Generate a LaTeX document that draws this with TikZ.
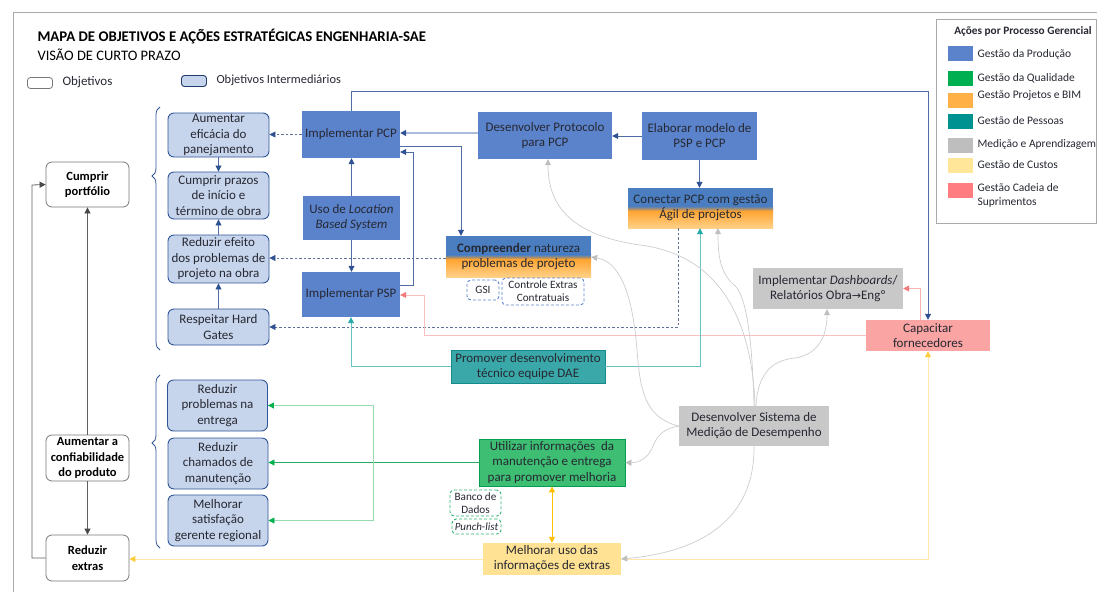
\documentclass[tikz,border=0pt]{standalone}
\usepackage{fontspec}
\setmainfont{Carlito}
\newfontfamily\arrowfont{DejaVu Sans}
\usetikzlibrary{arrows.meta,decorations.pathreplacing,calc}
\definecolor{txt}{RGB}{38,40,50}
\definecolor{framegray}{RGB}{170,170,170}
\definecolor{objdraw}{RGB}{120,120,120}
\definecolor{prod}{RGB}{91,131,204}
\definecolor{splitblue}{RGB}{74,126,193}
\definecolor{orTop}{RGB}{255,165,50}
\definecolor{orBot}{RGB}{255,208,135}
\definecolor{interfill}{RGB}{199,213,236}
\definecolor{interdraw}{RGB}{47,85,151}
\definecolor{tealfill}{RGB}{58,168,168}
\definecolor{tealdraw}{RGB}{20,140,140}
\definecolor{greenfill}{RGB}{61,190,115}
\definecolor{greendraw}{RGB}{0,160,80}
\definecolor{grayfill}{RGB}{200,200,200}
\definecolor{salmon}{RGB}{250,165,163}
\definecolor{lyellow}{RGB}{255,226,147}
\definecolor{lineblue}{RGB}{80,108,165}
\definecolor{arrowblue}{RGB}{47,80,145}
\definecolor{dashline}{RGB}{95,112,155}
\definecolor{paleblue}{RGB}{170,186,220}
\definecolor{tealline}{RGB}{100,195,195}
\definecolor{tealarrow}{RGB}{40,170,170}
\definecolor{grline}{RGB}{150,220,175}
\definecolor{grdark}{RGB}{40,170,95}
\definecolor{grarrow}{RGB}{0,176,80}
\definecolor{gold}{RGB}{255,192,0}
\definecolor{paleyellow}{RGB}{255,232,170}
\definecolor{yarrow}{RGB}{255,205,60}
\definecolor{salline}{RGB}{250,192,192}
\definecolor{salarrow}{RGB}{245,120,120}
\definecolor{curvegray}{RGB}{205,205,205}
\definecolor{curvearrow}{RGB}{190,190,190}
\definecolor{legblue}{RGB}{91,131,204}
\definecolor{leggreen}{RGB}{0,176,80}
\definecolor{legorange}{RGB}{255,176,70}
\definecolor{legteal}{RGB}{0,145,145}
\definecolor{leggray}{RGB}{190,190,190}
\definecolor{legyellow}{RGB}{255,230,153}
\definecolor{legsalmon}{RGB}{255,125,128}
\begin{document}
\begin{tikzpicture}[x=1pt,y=-1pt,
  every node/.style={font=\fontsize{13}{15}\selectfont, text=txt},
  box/.style={rectangle, inner sep=0.5pt, align=center},
  obj/.style={box, draw=objdraw, fill=white, rounded corners=6pt, line width=0.8pt, font=\fontsize{12.5}{15.5}\selectfont\bfseries, text=black},
  inter/.style={box, draw=interdraw, fill=interfill, rounded corners=6pt, line width=0.9pt, font=\fontsize{13}{15.5}\selectfont},
  act/.style={box, fill=prod},
  split/.style={box, path picture={
     \coordinate (nw) at (path picture bounding box.north west);
     \coordinate (se) at (path picture bounding box.south east);
     \coordinate (ww) at (path picture bounding box.west);
     \coordinate (ee) at (path picture bounding box.east);
     \fill[splitblue] (nw) rectangle ($(ee)+(0,-2)$);
     \shade[top color=splitblue, bottom color=orTop, middle color=orTop!55!splitblue!70!gray] ($(ww)+(0,-2)$) rectangle ($(ee)+(0,3)$);
     \shade[top color=orTop, bottom color=orBot] ($(ww)+(0,3)$) rectangle (se);}},
  dbox/.style={box, dashed, rounded corners=4pt, line width=0.9pt, fill=white, font=\fontsize{11.2}{13}\selectfont, dash pattern=on 3pt off 2pt},
  tip/.style={-{Triangle[length=6pt,width=6pt,color=#1]}},
  bline/.style={draw=lineblue, line width=0.8pt, tip=arrowblue},
  dline/.style={draw=dashline, line width=0.7pt, dash pattern=on 2.5pt off 2pt, tip=arrowblue},
  cline/.style={draw=curvegray, line width=0.7pt, tip=curvearrow},
  legsw/.style={rectangle, minimum width=25, minimum height=15, inner sep=0pt},
  legtx/.style={anchor=west, font=\fontsize{11.5}{14}\selectfont, align=left}
]
\useasboundingbox (0,0) rectangle (1097,592);
% frame
\draw[framegray, line width=1pt] (1097,12) -- (13,12) -- (13,592);
% title
\node[anchor=west, font=\fontsize{14.8}{17}\selectfont\bfseries, text=black] (title) at (34,37) {MAPA DE OBJETIVOS E AÇÕES ESTRATÉGICAS ENGENHARIA-SAE};
\node[anchor=west, font=\fontsize{14.5}{17}\selectfont, text=black] (sub) at (34,55) {VISÃO DE CURTO PRAZO};
% key
\node[box, draw=objdraw, fill=white, rounded corners=3pt, minimum width=25, minimum height=11, line width=0.8pt] (kobj) at (40,83) {};
\node[anchor=west, font=\fontsize{13}{15}\selectfont] (kobjt) at (59,82) {Objetivos};
\node[box, draw=interdraw!70!black, fill=interfill, rounded corners=3pt, minimum width=25, minimum height=11, line width=0.9pt] (kint) at (194,81) {};
\node[anchor=west, font=\fontsize{12.4}{15}\selectfont] (kintt) at (213,80) {Objetivos Intermediários};
% legend
\draw[framegray, line width=1pt] (936,19) rectangle (1096,223);
\node[font=\fontsize{11.3}{13}\selectfont\bfseries] (legt) at (1023,31) {Ações por Processo Gerencial};
\node[legsw, fill=legblue] (s1) at (960.5,53.5) {};
\node[legtx] (l1) at (974,54) {Gestão da Produção};
\node[legsw, fill=leggreen] (s2) at (960.5,78.5) {};
\node[legtx] (l2) at (974,78) {Gestão da Qualidade};
\node[legsw, fill=legorange] (s3) at (960.5,100) {};
\node[legtx] (l3) at (974,96) {Gestão Projetos e BIM};
\node[legsw, fill=legteal] (s4) at (960.5,121) {};
\node[legtx] (l4) at (974,121) {Gestão de Pessoas};
\node[legsw, fill=leggray] (s5) at (960.5,145) {};
\node[legtx] (l5) at (974,144) {Medição e Aprendizagem};
\node[legsw, fill=legyellow] (s6) at (960.5,165) {};
\node[legtx] (l6) at (974,165) {Gestão de Custos};
\node[legsw, fill=legsalmon] (s7) at (960.5,190) {};
\node[legtx] (l7) at (974,195.5) {Gestão Cadeia de\\Suprimentos};
% objectives
\node[obj, minimum width=83, minimum height=45] (cumprir) at (87.5,184.5) {Cumprir\\portfólio};
\node[obj, minimum width=83, minimum height=46] (confiab) at (87.5,458) {Aumentar a\\confiabilidade\\do produto};
\node[obj, minimum width=83, minimum height=46] (reduzirext) at (87.5,558) {Reduzir\\extras};
% intermediate objectives
\node[inter, minimum width=101, minimum height=44] (aum) at (218.5,135) {Aumentar\\eficácia do\\panejamento};
\node[inter, minimum width=101, minimum height=47] (prazos) at (218.5,195.5) {Cumprir prazos\\de início e\\término de obra};
\node[inter, minimum width=101, minimum height=48] (efeito) at (218.5,259) {Reduzir efeito\\dos problemas de\\projeto na obra};
\node[inter, minimum width=101, minimum height=36] (gates) at (218.5,327) {Respeitar Hard\\Gates};
\node[inter, minimum width=100, minimum height=51] (redprob) at (217.5,405.5) {Reduzir\\problemas na\\entrega};
\node[inter, minimum width=100, minimum height=51] (chamados) at (218,463.5) {Reduzir\\chamados de\\manutenção};
\node[inter, minimum width=100, minimum height=51] (satisf) at (218,520.5) {Melhorar\\satisfação\\gerente regional};
% braces
\draw[interdraw, line width=0.8pt, decorate, decoration={brace, amplitude=8pt, aspect=0.716}] (160,350) -- (160,107);
\draw[interdraw, line width=0.8pt, decorate, decoration={brace, amplitude=8pt, aspect=0.607}] (160,548) -- (160,375);
% actions
\node[act, minimum width=98, minimum height=47] (pcp) at (351,134.5) {Implementar PCP};
\node[act, minimum width=97, minimum height=44] (lbs) at (351.5,218) {Uso de \textit{Location}\\\textit{Based System}};
\node[act, minimum width=98, minimum height=45] (psp) at (351,294.5) {Implementar PSP};
\node[act, minimum width=134, minimum height=47] (protocolo) at (545,135.5) {Desenvolver Protocolo\\para PCP};
\node[act, minimum width=115, minimum height=48] (elaborar) at (699.5,136) {Elaborar modelo de\\PSP e PCP};
\node[split, minimum width=145, minimum height=40] (conectar) at (700.5,208) {Conectar PCP com gestão\\Ágil de projetos};
\node[split, minimum width=145, minimum height=41] (compreender) at (518.5,256.5) {\textbf{Compreender} natureza\\problemas de projeto};
\node[dbox, draw=prod, minimum width=32, minimum height=20] (gsi) at (483,290) {GSI};
\node[dbox, draw=prod, minimum width=82, minimum height=27] (controle) at (543,291.5) {Controle Extras\\Contratuais};
\node[box, fill=tealfill, draw=tealdraw, line width=0.8pt, minimum width=154, minimum height=33] (promover) at (528,366.5) {Promover desenvolvimento\\técnico equipe DAE};
\node[box, fill=grayfill, minimum width=150, minimum height=41] (dash) at (828,288.5) {Implementar \textit{Dashboards}/\\Relatórios Obra{\arrowfont\fontsize{11}{12}\selectfont →}Engº};
\node[box, fill=salmon, minimum width=124, minimum height=31] (capacitar) at (928,335.5) {Capacitar\\fornecedores};
\node[box, fill=grayfill, minimum width=150, minimum height=40] (sistema) at (754,426) {Desenvolver Sistema de\\Medição de Desempenho};
\node[box, fill=greenfill, draw=greendraw, line width=0.8pt, minimum width=146, minimum height=47, font=\fontsize{13}{15.5}\selectfont] (utilizar) at (552,462.5) {Utilizar informações~ da\\manutenção e entrega\\para promover melhoria};
\node[dbox, draw=greendraw!80!white, minimum width=51, minimum height=26] (banco) at (475.5,503) {Banco de\\Dados};
\node[dbox, draw=greendraw!80!white, minimum width=49, minimum height=15, font=\fontsize{11}{12}\selectfont\itshape] (punch) at (476.5,526.5) {Punch-list};
\node[box, fill=lyellow, minimum width=138, minimum height=32] (melhorar) at (552,559) {Melhorar uso das\\informações de extras};
% objective connectors
\draw[draw=objdraw!80!black, line width=0.8pt, tip=objdraw!60!black] (confiab.north) -- (cumprir.south);
\draw[draw=objdraw!80!black, line width=0.8pt, tip=objdraw!60!black] (confiab.south) -- (reduzirext.north);
\draw[draw=objdraw!80!black, line width=0.8pt, tip=objdraw!60!black] (reduzirext.west) -| (32,185) -- (cumprir.west);
% intermediate connectors
\draw[bline] (aum.south) -- (prazos.north);
\draw[bline] (efeito.north) -- (prazos.south);
\draw[bline] (gates.north) -- (efeito.south);
% action connectors (blue)
\draw[bline] (pcp.north) -- (pcp.north |- 0,91) -| (capacitar.north);
\draw[draw=paleblue, line width=1.6pt, tip=arrowblue] (protocolo.west |- 0,133) -- (pcp.east |- 0,133);
\draw[bline] (elaborar.west) -- (protocolo.east |- elaborar.west);
\draw[bline] (elaborar.south) -- (elaborar.south |- conectar.north);
\draw[bline] (pcp.east |- 0,146) -| (compreender.north -| 461,0);
\draw[bline] (psp.east |- 0,285) -| (413,152) -- (pcp.east |- 0,152);
\draw[bline] (lbs.north) -- (pcp.south -| lbs.north);
\draw[bline] (lbs.south) -- (psp.north -| lbs.south);
% dashed
\draw[dline] (pcp.west) -- (aum.east |- pcp.west);
\draw[dline] (compreender.west |- 0,258) -- (efeito.east |- 0,258);
\draw[dline] (conectar.south -| 678,0) |- (gates.east);
% salmon
\draw[draw=salline, line width=0.8pt, tip=salarrow] (capacitar.west) -| (424,295) -- (psp.east |- 0,295);
\draw[draw=salline!80!salarrow, line width=0.8pt, tip=salarrow] (capacitar.north -| 920,0) |- (dash.east);
% teal
\draw[draw=tealline, line width=0.9pt, tip=tealarrow] (promover.west) -| (psp.south);
\draw[draw=tealline, line width=0.9pt, tip=tealarrow] (promover.east) -| (conectar.south -| 700,0);
% green
\coordinate (gj) at (373,462.5);
\draw[draw=grdark, line width=0.9pt, tip=grarrow] (utilizar.west) -- (chamados.east |- utilizar.west);
\draw[draw=grline, line width=0.9pt, tip=grarrow] (gj) |- (redprob.east);
\draw[draw=grline, line width=0.9pt, tip=grarrow] (gj) |- (satisf.east);
% yellow
\draw[draw=gold, line width=0.9pt, {Triangle[length=6pt,width=6pt]}-{Triangle[length=6pt,width=6pt]}] (utilizar.south) -- (melhorar.north);
\draw[draw=paleyellow, line width=1pt, tip=yarrow] (melhorar.west) -- (reduzirext.east |- melhorar.west);
\draw[draw=paleyellow, line width=1pt, tip=yarrow] (melhorar.east) -| (capacitar.south);
% gray curves from sistema
\draw[cline] (sistema.north -| 755,0) .. controls (752,320) and (720,255) .. (640,245) .. controls (570,235) and (548,205) .. (protocolo.south -| 548,0);
\draw[cline] (sistema.north -| 754,0) .. controls (752,330) and (745,292) .. (733,284) .. controls (720,272) and (718,255) .. (conectar.south -| 718,0);
\draw[cline] (sistema.north -| 756,0) .. controls (758,370) and (775,360) .. (795,358) .. controls (815,355) and (827,340) .. (dash.south -| 827,0);
\draw[cline] (sistema.west) .. controls (645,418) and (640,390) .. (637,350) .. controls (633,300) and (622,262) .. (compreender.east |- 0,257);
\draw[cline] (sistema.west) .. controls (655,430) and (655,445) .. (650,452) .. controls (645,460) and (636,463) .. (utilizar.east);
\draw[cline] (sistema.south) .. controls (755,520) and (700,552) .. (melhorar.east);
\end{tikzpicture}
\end{document}
